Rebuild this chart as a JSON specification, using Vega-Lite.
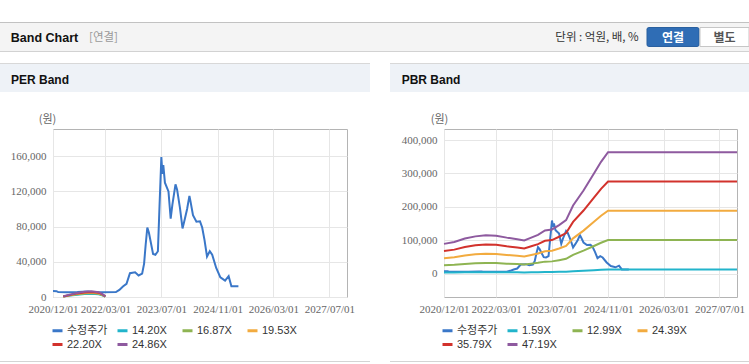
{
  "$schema": "https://vega.github.io/schema/vega-lite/v6.json",
  "padding": {"left": 0, "top": 22, "right": 0, "bottom": 0},
  "background": "#ffffff",
  "config": {
    "view": {"stroke": null},
    "axis": {"labelFont": "Liberation Sans Narrow", "labelFontSize": 11, "labelColor": "#666666", "gridColor": "#e6e6e6", "domain": false, "ticks": false, "labelOverlap": false, "labelFlush": false, "titleFont": "Noto Sans CJK KR", "titleFontSize": 11, "titleFontWeight": "normal", "titleColor": "#666666"},
    "axisX": {"labelPadding": 6},
    "axisY": {"labelPadding": 7, "titleAngle": 0, "titleAlign": "center", "titleBaseline": "middle"},
    "legend": {"orient": "none", "legendX": 51, "legendY": 261, "direction": "horizontal", "columns": 4, "gridAlign": "all", "symbolType": "stroke", "symbolSize": 100, "symbolStrokeWidth": 3, "labelFont": "Liberation Sans, Noto Sans CJK KR", "labelFontSize": 11, "labelColor": "#333333", "columnPadding": 3, "rowPadding": 1, "labelOffset": 3, "title": null}
  },
  "datasets": {
    "price": [
      {"d": "2020-12-01", "s": "수정주가", "v": 6800},
      {"d": "2021-01-01", "s": "수정주가", "v": 6600},
      {"d": "2021-01-15", "s": "수정주가", "v": 5600},
      {"d": "2021-04-01", "s": "수정주가", "v": 5500},
      {"d": "2021-07-01", "s": "수정주가", "v": 5600},
      {"d": "2021-10-01", "s": "수정주가", "v": 6200},
      {"d": "2021-11-01", "s": "수정주가", "v": 5700},
      {"d": "2022-02-01", "s": "수정주가", "v": 5500},
      {"d": "2022-06-01", "s": "수정주가", "v": 5600},
      {"d": "2022-07-01", "s": "수정주가", "v": 8000},
      {"d": "2022-08-01", "s": "수정주가", "v": 12000},
      {"d": "2022-09-01", "s": "수정주가", "v": 15000},
      {"d": "2022-10-01", "s": "수정주가", "v": 27000},
      {"d": "2022-11-15", "s": "수정주가", "v": 28000},
      {"d": "2022-12-15", "s": "수정주가", "v": 24500},
      {"d": "2023-01-15", "s": "수정주가", "v": 26500},
      {"d": "2023-02-01", "s": "수정주가", "v": 38000},
      {"d": "2023-02-15", "s": "수정주가", "v": 60000},
      {"d": "2023-03-01", "s": "수정주가", "v": 79000},
      {"d": "2023-03-15", "s": "수정주가", "v": 73000},
      {"d": "2023-04-20", "s": "수정주가", "v": 49000},
      {"d": "2023-05-10", "s": "수정주가", "v": 48000},
      {"d": "2023-06-01", "s": "수정주가", "v": 52000},
      {"d": "2023-06-15", "s": "수정주가", "v": 103000},
      {"d": "2023-07-01", "s": "수정주가", "v": 159000},
      {"d": "2023-07-10", "s": "수정주가", "v": 140000},
      {"d": "2023-07-18", "s": "수정주가", "v": 150000},
      {"d": "2023-08-01", "s": "수정주가", "v": 130000},
      {"d": "2023-09-01", "s": "수정주가", "v": 120000},
      {"d": "2023-09-20", "s": "수정주가", "v": 89000},
      {"d": "2023-10-05", "s": "수정주가", "v": 105000},
      {"d": "2023-11-01", "s": "수정주가", "v": 128000},
      {"d": "2023-11-15", "s": "수정주가", "v": 122000},
      {"d": "2023-12-10", "s": "수정주가", "v": 101000},
      {"d": "2024-01-01", "s": "수정주가", "v": 78000},
      {"d": "2024-01-20", "s": "수정주가", "v": 88000},
      {"d": "2024-02-10", "s": "수정주가", "v": 100000},
      {"d": "2024-03-01", "s": "수정주가", "v": 115000},
      {"d": "2024-03-10", "s": "수정주가", "v": 109000},
      {"d": "2024-04-01", "s": "수정주가", "v": 93000},
      {"d": "2024-05-01", "s": "수정주가", "v": 85500},
      {"d": "2024-06-01", "s": "수정주가", "v": 86000},
      {"d": "2024-06-20", "s": "수정주가", "v": 79000},
      {"d": "2024-07-10", "s": "수정주가", "v": 65000},
      {"d": "2024-08-01", "s": "수정주가", "v": 46000},
      {"d": "2024-08-25", "s": "수정주가", "v": 52000},
      {"d": "2024-09-15", "s": "수정주가", "v": 48000},
      {"d": "2024-10-20", "s": "수정주가", "v": 33000},
      {"d": "2024-11-25", "s": "수정주가", "v": 22400},
      {"d": "2025-01-05", "s": "수정주가", "v": 18600},
      {"d": "2025-02-05", "s": "수정주가", "v": 23600},
      {"d": "2025-03-01", "s": "수정주가", "v": 12200},
      {"d": "2025-05-01", "s": "수정주가", "v": 12200}
    ],
    "per": [
      {"d": "2021-03-01", "s": "14.20X", "v": 426}, {"d": "2021-03-01", "s": "16.87X", "v": 506}, {"d": "2021-03-01", "s": "19.53X", "v": 586}, {"d": "2021-03-01", "s": "22.20X", "v": 666}, {"d": "2021-03-01", "s": "24.86X", "v": 746},
      {"d": "2021-05-01", "s": "14.20X", "v": 1562}, {"d": "2021-05-01", "s": "16.87X", "v": 1856}, {"d": "2021-05-01", "s": "19.53X", "v": 2148}, {"d": "2021-05-01", "s": "22.20X", "v": 2442}, {"d": "2021-05-01", "s": "24.86X", "v": 2735},
      {"d": "2021-07-01", "s": "14.20X", "v": 2627}, {"d": "2021-07-01", "s": "16.87X", "v": 3121}, {"d": "2021-07-01", "s": "19.53X", "v": 3613}, {"d": "2021-07-01", "s": "22.20X", "v": 4107}, {"d": "2021-07-01", "s": "24.86X", "v": 4599},
      {"d": "2021-09-01", "s": "14.20X", "v": 3337}, {"d": "2021-09-01", "s": "16.87X", "v": 3964}, {"d": "2021-09-01", "s": "19.53X", "v": 4590}, {"d": "2021-09-01", "s": "22.20X", "v": 5217}, {"d": "2021-09-01", "s": "24.86X", "v": 5842},
      {"d": "2021-11-01", "s": "14.20X", "v": 3720}, {"d": "2021-11-01", "s": "16.87X", "v": 4420}, {"d": "2021-11-01", "s": "19.53X", "v": 5117}, {"d": "2021-11-01", "s": "22.20X", "v": 5816}, {"d": "2021-11-01", "s": "24.86X", "v": 6513},
      {"d": "2022-01-01", "s": "14.20X", "v": 3124}, {"d": "2022-01-01", "s": "16.87X", "v": 3711}, {"d": "2022-01-01", "s": "19.53X", "v": 4297}, {"d": "2022-01-01", "s": "22.20X", "v": 4884}, {"d": "2022-01-01", "s": "24.86X", "v": 5469},
      {"d": "2022-02-01", "s": "14.20X", "v": 1988}, {"d": "2022-02-01", "s": "16.87X", "v": 2362}, {"d": "2022-02-01", "s": "19.53X", "v": 2734}, {"d": "2022-02-01", "s": "22.20X", "v": 3108}, {"d": "2022-02-01", "s": "24.86X", "v": 3480},
      {"d": "2022-03-01", "s": "14.20X", "v": 426}, {"d": "2022-03-01", "s": "16.87X", "v": 506}, {"d": "2022-03-01", "s": "19.53X", "v": 586}, {"d": "2022-03-01", "s": "22.20X", "v": 666}, {"d": "2022-03-01", "s": "24.86X", "v": 746}
    ],
    "pbr": [
      {"d": "2020-12-01", "s": "1.59X", "v": 2996}, {"d": "2020-12-01", "s": "12.99X", "v": 24473}, {"d": "2020-12-01", "s": "24.39X", "v": 45951}, {"d": "2020-12-01", "s": "35.79X", "v": 67428}, {"d": "2020-12-01", "s": "47.19X", "v": 88906},
      {"d": "2021-03-01", "s": "1.59X", "v": 3180}, {"d": "2021-03-01", "s": "12.99X", "v": 25980}, {"d": "2021-03-01", "s": "24.39X", "v": 48780}, {"d": "2021-03-01", "s": "35.79X", "v": 71580}, {"d": "2021-03-01", "s": "47.19X", "v": 94380},
      {"d": "2021-06-01", "s": "1.59X", "v": 3530}, {"d": "2021-06-01", "s": "12.99X", "v": 28838}, {"d": "2021-06-01", "s": "24.39X", "v": 54146}, {"d": "2021-06-01", "s": "35.79X", "v": 79454}, {"d": "2021-06-01", "s": "47.19X", "v": 104762},
      {"d": "2021-09-01", "s": "1.59X", "v": 3752}, {"d": "2021-09-01", "s": "12.99X", "v": 30656}, {"d": "2021-09-01", "s": "24.39X", "v": 57560}, {"d": "2021-09-01", "s": "35.79X", "v": 84464}, {"d": "2021-09-01", "s": "47.19X", "v": 111368},
      {"d": "2021-12-01", "s": "1.59X", "v": 3875}, {"d": "2021-12-01", "s": "12.99X", "v": 31657}, {"d": "2021-12-01", "s": "24.39X", "v": 59438}, {"d": "2021-12-01", "s": "35.79X", "v": 87220}, {"d": "2021-12-01", "s": "47.19X", "v": 115002},
      {"d": "2022-03-01", "s": "1.59X", "v": 3816}, {"d": "2022-03-01", "s": "12.99X", "v": 31176}, {"d": "2022-03-01", "s": "24.39X", "v": 58536}, {"d": "2022-03-01", "s": "35.79X", "v": 85896}, {"d": "2022-03-01", "s": "47.19X", "v": 113256},
      {"d": "2022-06-01", "s": "1.59X", "v": 3625}, {"d": "2022-06-01", "s": "12.99X", "v": 29617}, {"d": "2022-06-01", "s": "24.39X", "v": 55609}, {"d": "2022-06-01", "s": "35.79X", "v": 81601}, {"d": "2022-06-01", "s": "47.19X", "v": 107593},
      {"d": "2022-09-01", "s": "1.59X", "v": 3466}, {"d": "2022-09-01", "s": "12.99X", "v": 28318}, {"d": "2022-09-01", "s": "24.39X", "v": 53170}, {"d": "2022-09-01", "s": "35.79X", "v": 78022}, {"d": "2022-09-01", "s": "47.19X", "v": 102874},
      {"d": "2022-11-01", "s": "1.59X", "v": 3336}, {"d": "2022-11-01", "s": "12.99X", "v": 27253}, {"d": "2022-11-01", "s": "24.39X", "v": 51170}, {"d": "2022-11-01", "s": "35.79X", "v": 75087}, {"d": "2022-11-01", "s": "47.19X", "v": 99005},
      {"d": "2023-01-01", "s": "1.59X", "v": 3625}, {"d": "2023-01-01", "s": "12.99X", "v": 29617}, {"d": "2023-01-01", "s": "24.39X", "v": 55609}, {"d": "2023-01-01", "s": "35.79X", "v": 81601}, {"d": "2023-01-01", "s": "47.19X", "v": 107593},
      {"d": "2023-03-01", "s": "1.59X", "v": 3908}, {"d": "2023-03-01", "s": "12.99X", "v": 31929}, {"d": "2023-03-01", "s": "24.39X", "v": 59951}, {"d": "2023-03-01", "s": "35.79X", "v": 87972}, {"d": "2023-03-01", "s": "47.19X", "v": 115993},
      {"d": "2023-05-01", "s": "1.59X", "v": 4357}, {"d": "2023-05-01", "s": "12.99X", "v": 35593}, {"d": "2023-05-01", "s": "24.39X", "v": 66829}, {"d": "2023-05-01", "s": "35.79X", "v": 98065}, {"d": "2023-05-01", "s": "47.19X", "v": 129301},
      {"d": "2023-07-01", "s": "1.59X", "v": 4452}, {"d": "2023-07-01", "s": "12.99X", "v": 36372}, {"d": "2023-07-01", "s": "24.39X", "v": 68292}, {"d": "2023-07-01", "s": "35.79X", "v": 100212}, {"d": "2023-07-01", "s": "47.19X", "v": 132132},
      {"d": "2023-09-01", "s": "1.59X", "v": 4897}, {"d": "2023-09-01", "s": "12.99X", "v": 40009}, {"d": "2023-09-01", "s": "24.39X", "v": 75121}, {"d": "2023-09-01", "s": "35.79X", "v": 110233}, {"d": "2023-09-01", "s": "47.19X", "v": 145345},
      {"d": "2023-11-01", "s": "1.59X", "v": 5390}, {"d": "2023-11-01", "s": "12.99X", "v": 44036}, {"d": "2023-11-01", "s": "24.39X", "v": 82682}, {"d": "2023-11-01", "s": "35.79X", "v": 121328}, {"d": "2023-11-01", "s": "47.19X", "v": 159974},
      {"d": "2024-01-01", "s": "1.59X", "v": 6874}, {"d": "2024-01-01", "s": "12.99X", "v": 56156}, {"d": "2024-01-01", "s": "24.39X", "v": 105438}, {"d": "2024-01-01", "s": "35.79X", "v": 154720}, {"d": "2024-01-01", "s": "47.19X", "v": 204002},
      {"d": "2024-04-01", "s": "1.59X", "v": 8390}, {"d": "2024-04-01", "s": "12.99X", "v": 68548}, {"d": "2024-04-01", "s": "24.39X", "v": 128706}, {"d": "2024-04-01", "s": "35.79X", "v": 188864}, {"d": "2024-04-01", "s": "47.19X", "v": 249022},
      {"d": "2024-07-01", "s": "1.59X", "v": 10108}, {"d": "2024-07-01", "s": "12.99X", "v": 82577}, {"d": "2024-07-01", "s": "24.39X", "v": 155047}, {"d": "2024-07-01", "s": "35.79X", "v": 227517}, {"d": "2024-07-01", "s": "47.19X", "v": 299987},
      {"d": "2024-09-01", "s": "1.59X", "v": 11287}, {"d": "2024-09-01", "s": "12.99X", "v": 92216}, {"d": "2024-09-01", "s": "24.39X", "v": 173145}, {"d": "2024-09-01", "s": "35.79X", "v": 254073}, {"d": "2024-09-01", "s": "47.19X", "v": 335002},
      {"d": "2024-11-01", "s": "1.59X", "v": 12264}, {"d": "2024-11-01", "s": "12.99X", "v": 100192}, {"d": "2024-11-01", "s": "24.39X", "v": 188120}, {"d": "2024-11-01", "s": "35.79X", "v": 276048}, {"d": "2024-11-01", "s": "47.19X", "v": 363976},
      {"d": "2027-12-01", "s": "1.59X", "v": 12264}, {"d": "2027-12-01", "s": "12.99X", "v": 100192}, {"d": "2027-12-01", "s": "24.39X", "v": 188120}, {"d": "2027-12-01", "s": "35.79X", "v": 276048}, {"d": "2027-12-01", "s": "47.19X", "v": 363976}
    ]
  },
  "spacing": 11,
  "vconcat": [
    {
      "spacing": 0,
      "vconcat": [
        {"width": 749, "height": 1, "data": {"values": []}, "mark": "point", "view": {"fill": "#c2c2c2", "stroke": null}},
        {
          "bounds": "flush",
          "spacing": 0,
          "hconcat": [
            {"width": 89, "height": 28, "data": {"values": [{}]}, "mark": {"type": "text", "text": "Band Chart", "font": "Liberation Sans", "fontWeight": "bold", "fontSize": 12.5, "fill": "#111111", "dy": 1}, "view": {"fill": "#f4f4f4", "stroke": null}},
            {"width": 29, "height": 28, "data": {"values": [{}]}, "mark": {"type": "text", "text": "[연결]", "font": "Noto Sans CJK KR", "fontSize": 11.5, "fill": "#999999", "dy": 1}, "view": {"fill": "#f4f4f4", "stroke": null}},
            {"width": 430, "height": 28, "data": {"values": []}, "mark": "point", "view": {"fill": "#f4f4f4", "stroke": null}},
            {"width": 98, "height": 28, "data": {"values": [{}]}, "mark": {"type": "text", "text": "단위 : 억원, 배, %", "font": "Noto Sans CJK KR", "fontSize": 11.5, "fill": "#333333", "dy": 1}, "view": {"fill": "#f4f4f4", "stroke": null}},
            {
              "width": 54, "height": 28, "data": {"values": [{}]}, "view": {"fill": "#f4f4f4", "stroke": null},
              "layer": [
                {"mark": {"type": "point", "shape": "M-0.93,-0.365H0.93Q1,-0.365 1,-0.295V0.295Q1,0.365 0.93,0.365H-0.93Q-1,0.365 -1,0.295V-0.295Q-1,-0.365 -0.93,-0.365Z", "size": 2704, "filled": true, "fill": "#2f6db5", "stroke": "#29609f", "strokeWidth": 1, "opacity": 1}},
                {"mark": {"type": "text", "text": "연결", "font": "Noto Sans CJK KR", "fontWeight": "bold", "fontSize": 12, "fill": "#ffffff", "dy": 1}}
              ]
            },
            {
              "width": 49, "height": 28, "data": {"values": [{}]}, "view": {"fill": "#f4f4f4", "stroke": null},
              "layer": [
                {"mark": {"type": "point", "shape": "M-1,-0.388H1V0.388H-1Z", "size": 2401, "filled": true, "fill": "#ffffff", "stroke": "#c6c6c6", "strokeWidth": 1, "opacity": 1}},
                {"mark": {"type": "text", "text": "별도", "font": "Noto Sans CJK KR", "fontWeight": "bold", "fontSize": 12, "fill": "#555555", "dy": 1}}
              ]
            }
          ]
        },
        {"width": 749, "height": 1, "data": {"values": []}, "mark": "point", "view": {"fill": "#d2d2d2", "stroke": null}}
      ]
    },
    {
      "spacing": 20,
      "resolve": {"scale": {"x": "independent", "y": "independent", "color": "independent"}, "axis": {"x": "independent", "y": "independent"}, "legend": {"color": "independent"}},
      "hconcat": [
        {
          "spacing": 0,
          "vconcat": [
            {"width": 370, "height": 1, "data": {"values": []}, "mark": "point", "view": {"fill": "#d8d8d8", "stroke": null}},
            {
              "bounds": "flush",
              "spacing": 0,
              "hconcat": [
                {"width": 80, "height": 28, "data": {"values": [{}]}, "mark": {"type": "text", "text": "PER Band", "font": "Liberation Sans", "fontWeight": "bold", "fontSize": 12, "fill": "#111111", "dy": 2}, "view": {"fill": "#eef2f7", "stroke": null}},
                {"width": 290, "height": 28, "data": {"values": []}, "mark": "point", "view": {"fill": "#eef2f7", "stroke": null}}
              ]
            },
            {"width": 370, "height": 20, "data": {"values": []}, "mark": "point", "view": {"fill": "#ffffff", "stroke": null}},
            {
              "bounds": "flush",
              "spacing": 0,
              "hconcat": [
                {"width": 53, "height": 168, "data": {"values": []}, "mark": "point", "view": {"fill": "#ffffff", "stroke": null}},
                {
                  "width": 294, "height": 168,
                  "view": {"stroke": "#b4b4b4", "fill": "#ffffff"},
                  "encoding": {
                    "x": {"field": "d", "type": "temporal", "scale": {"type": "utc", "domain": [{"year": 2020, "month": 12, "date": 1, "utc": true}, {"year": 2027, "month": 12, "date": 1, "utc": true}]}, "axis": {"values": [{"year": 2020, "month": 12, "date": 1, "utc": true}, {"year": 2022, "month": 3, "date": 1, "utc": true}, {"year": 2023, "month": 7, "date": 1, "utc": true}, {"year": 2024, "month": 11, "date": 1, "utc": true}, {"year": 2026, "month": 3, "date": 1, "utc": true}, {"year": 2027, "month": 7, "date": 1, "utc": true}], "format": "%Y/%m/%d", "title": null}},
                    "y": {"field": "v", "type": "quantitative", "scale": {"domain": [0, 191000], "nice": false, "zero": false}, "axis": {"values": [0, 40000, 80000, 120000, 160000], "format": ",d", "title": "(원)", "titleX": -6, "titleY": -10}},
                    "color": {"field": "s", "type": "nominal", "scale": {"domain": ["수정주가", "14.20X", "16.87X", "19.53X", "22.20X", "24.86X"], "range": ["#3a77c8", "#22b4cb", "#8eb452", "#f2ab3f", "#d2322c", "#8e5a9f"]}}
                  },
                  "layer": [
                    {"data": {"name": "price"}, "mark": {"type": "line", "strokeWidth": 2}},
                    {"data": {"name": "per"}, "mark": {"type": "line", "strokeWidth": 2}}
                  ]
                }
              ]
            },
            {"width": 370, "height": 46, "data": {"values": []}, "mark": "point", "view": {"fill": "#ffffff", "stroke": null}},
            {"width": 370, "height": 1, "data": {"values": []}, "mark": "point", "view": {"fill": "#d4d4d4", "stroke": null}}
          ]
        },
        {
          "spacing": 0,
          "vconcat": [
            {"width": 359, "height": 1, "data": {"values": []}, "mark": "point", "view": {"fill": "#d8d8d8", "stroke": null}},
            {
              "bounds": "flush",
              "spacing": 0,
              "hconcat": [
                {"width": 82, "height": 28, "data": {"values": [{}]}, "mark": {"type": "text", "text": "PBR Band", "font": "Liberation Sans", "fontWeight": "bold", "fontSize": 12, "fill": "#111111", "dy": 2}, "view": {"fill": "#eef2f7", "stroke": null}},
                {"width": 277, "height": 28, "data": {"values": []}, "mark": "point", "view": {"fill": "#eef2f7", "stroke": null}}
              ]
            },
            {"width": 359, "height": 20, "data": {"values": []}, "mark": "point", "view": {"fill": "#ffffff", "stroke": null}},
            {
              "bounds": "flush",
              "spacing": 0,
              "hconcat": [
                {"width": 54, "height": 168, "data": {"values": []}, "mark": "point", "view": {"fill": "#ffffff", "stroke": null}},
                {
                  "width": 293, "height": 168,
                  "view": {"stroke": "#b4b4b4", "fill": "#ffffff"},
                  "encoding": {
                    "x": {"field": "d", "type": "temporal", "scale": {"type": "utc", "domain": [{"year": 2020, "month": 12, "date": 1, "utc": true}, {"year": 2027, "month": 12, "date": 1, "utc": true}]}, "axis": {"values": [{"year": 2020, "month": 12, "date": 1, "utc": true}, {"year": 2022, "month": 3, "date": 1, "utc": true}, {"year": 2023, "month": 7, "date": 1, "utc": true}, {"year": 2024, "month": 11, "date": 1, "utc": true}, {"year": 2026, "month": 3, "date": 1, "utc": true}, {"year": 2027, "month": 7, "date": 1, "utc": true}], "format": "%Y/%m/%d", "title": null}},
                    "y": {"field": "v", "type": "quantitative", "scale": {"domain": [-70500, 433500], "nice": false, "zero": false}, "axis": {"values": [0, 100000, 200000, 300000, 400000], "format": ",d", "title": "(원)", "titleX": -5, "titleY": -10}},
                    "color": {"field": "s", "type": "nominal", "scale": {"domain": ["수정주가", "1.59X", "12.99X", "24.39X", "35.79X", "47.19X"], "range": ["#3a77c8", "#22b4cb", "#8eb452", "#f2ab3f", "#d2322c", "#8e5a9f"]}}
                  },
                  "layer": [
                    {"data": {"name": "price"}, "mark": {"type": "line", "strokeWidth": 2}},
                    {"data": {"name": "pbr"}, "mark": {"type": "line", "strokeWidth": 2}}
                  ]
                }
              ]
            },
            {"width": 359, "height": 46, "data": {"values": []}, "mark": "point", "view": {"fill": "#ffffff", "stroke": null}},
            {"width": 359, "height": 1, "data": {"values": []}, "mark": "point", "view": {"fill": "#d4d4d4", "stroke": null}}
          ]
        }
      ]
    }
  ]
}
